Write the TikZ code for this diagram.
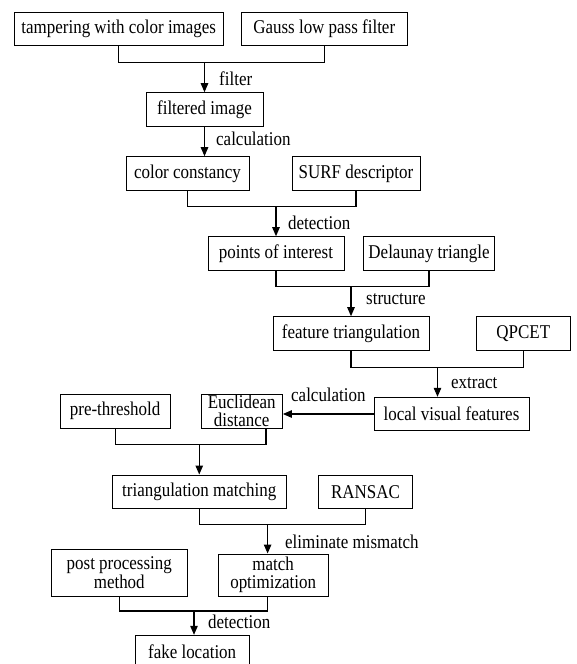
\documentclass[tikz,border=0pt]{standalone}
\usepackage{fontspec}
\setmainfont{Liberation Serif}[FakeStretch=0.87]
\usetikzlibrary{arrows.meta}
\begin{document}
\begin{tikzpicture}[x=1pt,y=-1pt,
  every node/.style={font=\fontsize{19.5}{18.5}\selectfont},
  box/.style={draw, line width=1pt, inner sep=0pt, align=center},
  lbl/.style={anchor=west, inner sep=0pt},
  conn/.style={line width=1.1pt},
  arr/.style={line width=1.1pt, -{Triangle[length=9pt,width=7.5pt]}}]
\useasboundingbox (0,0) rectangle (576,664);
% row 1
\node[box, minimum width=209.5pt, minimum height=33pt] (b1) at (118.75,29) {tampering with color images};
\node[box, minimum width=165.5pt, minimum height=33pt] (b2) at (324.25,29) {Gauss low pass filter};
\coordinate (j1) at (204.5,62.3);
\draw[conn] (b1.south) |- (j1) -| (b2.south);
\node[box, minimum width=117pt, minimum height=33.3pt] (b3) at (204.5,109.35) {filtered image};
\draw[arr] (j1) -- (b3.north);
\node[lbl] (l1) at (219,79) {filter};
% row 2
\node[box, minimum width=123pt, minimum height=33.3pt] (b4) at (187.5,173.35) {color constancy};
\node[box, minimum width=128pt, minimum height=33.3pt] (b5) at (356,173.35) {SURF descriptor};
\draw[arr] (b3.south) -- (b4.north -| b3.south);
\node[lbl] (l2) at (216,139.3) {calculation};
\coordinate (j2) at (276,206.7);
\draw[conn] (b4.south) |- (j2) -| (b5.south);
\node[box, minimum width=136pt, minimum height=33.3pt] (b6) at (276,253.35) {points of interest};
\node[box, minimum width=131pt, minimum height=33.3pt] (b7) at (429,253.35) {Delaunay triangle};
\draw[arr] (j2) -- (b6.north);
\node[lbl] (l3) at (288,222.7) {detection};
\coordinate (j3) at (351,286.7);
\draw[conn] (b6.south) |- (j3) -| (b7.south);
\node[box, minimum width=156pt, minimum height=34pt] (b8) at (351,333.7) {feature triangulation};
\node[box, minimum width=93.5pt, minimum height=34pt] (b9) at (523.25,333.7) {QPCET};
\draw[arr] (j3) -- (b8.north);
\node[lbl] (l4) at (366,299.3) {structure};
\coordinate (j4) at (437.5,367.3);
\draw[conn] (b8.south) |- (j4) -| (b9.south);
\node[box, minimum width=155pt, minimum height=33.4pt] (b10) at (451.5,414) {local visual features};
\draw[arr] (j4) -- (j4 |- b10.north);
\node[lbl] (l5) at (451,382.7) {extract};
\node[box, minimum width=81.4pt, minimum height=34pt] (b11) at (241.7,411) {Euclidean\\distance};
\node[box, minimum width=109.7pt, minimum height=34pt] (b12) at (115.15,411) {pre-threshold};
\draw[arr] (b10.west) -- (b10.west -| b11.east);
\node[lbl] (l6) at (291,395) {calculation};
\coordinate (d5) at (266,0);
\coordinate (j5) at (199.25,444.3);
\draw[conn] (b12.south) |- (j5) -| (b11.south -| d5);
\node[box, minimum width=173.5pt, minimum height=33.3pt] (b13) at (199.25,491.65) {triangulation matching};
\node[box, minimum width=94pt, minimum height=33.3pt] (b14) at (365.5,491.65) {RANSAC};
\draw[arr] (j5) -- (b13.north);
\coordinate (j6) at (267.6,524.3);
\draw[conn] (b13.south) |- (j6) -| (b14.south);
\node[box, minimum width=135.5pt, minimum height=46.7pt] (b15) at (119.25,572.65) {post processing\\method};
\node[box, minimum width=110.3pt, minimum height=42pt] (b16) at (273.15,575) {match\\optimization};
\draw[arr] (j6) -- (j6 |- b16.north);
\node[lbl] (l7) at (285,541.7) {eliminate mismatch};
\coordinate (j7) at (194,611);
\draw[conn] (b15.south) |- (j7) -| (b16.south -| j6);
\node[box, minimum width=114.3pt, minimum height=33pt] (b17) at (192.15,651.8) {fake location};
\draw[arr] (j7) -- (j7 |- b17.north);
\node[lbl] (l8) at (208,621.7) {detection};
\end{tikzpicture}
\end{document}
